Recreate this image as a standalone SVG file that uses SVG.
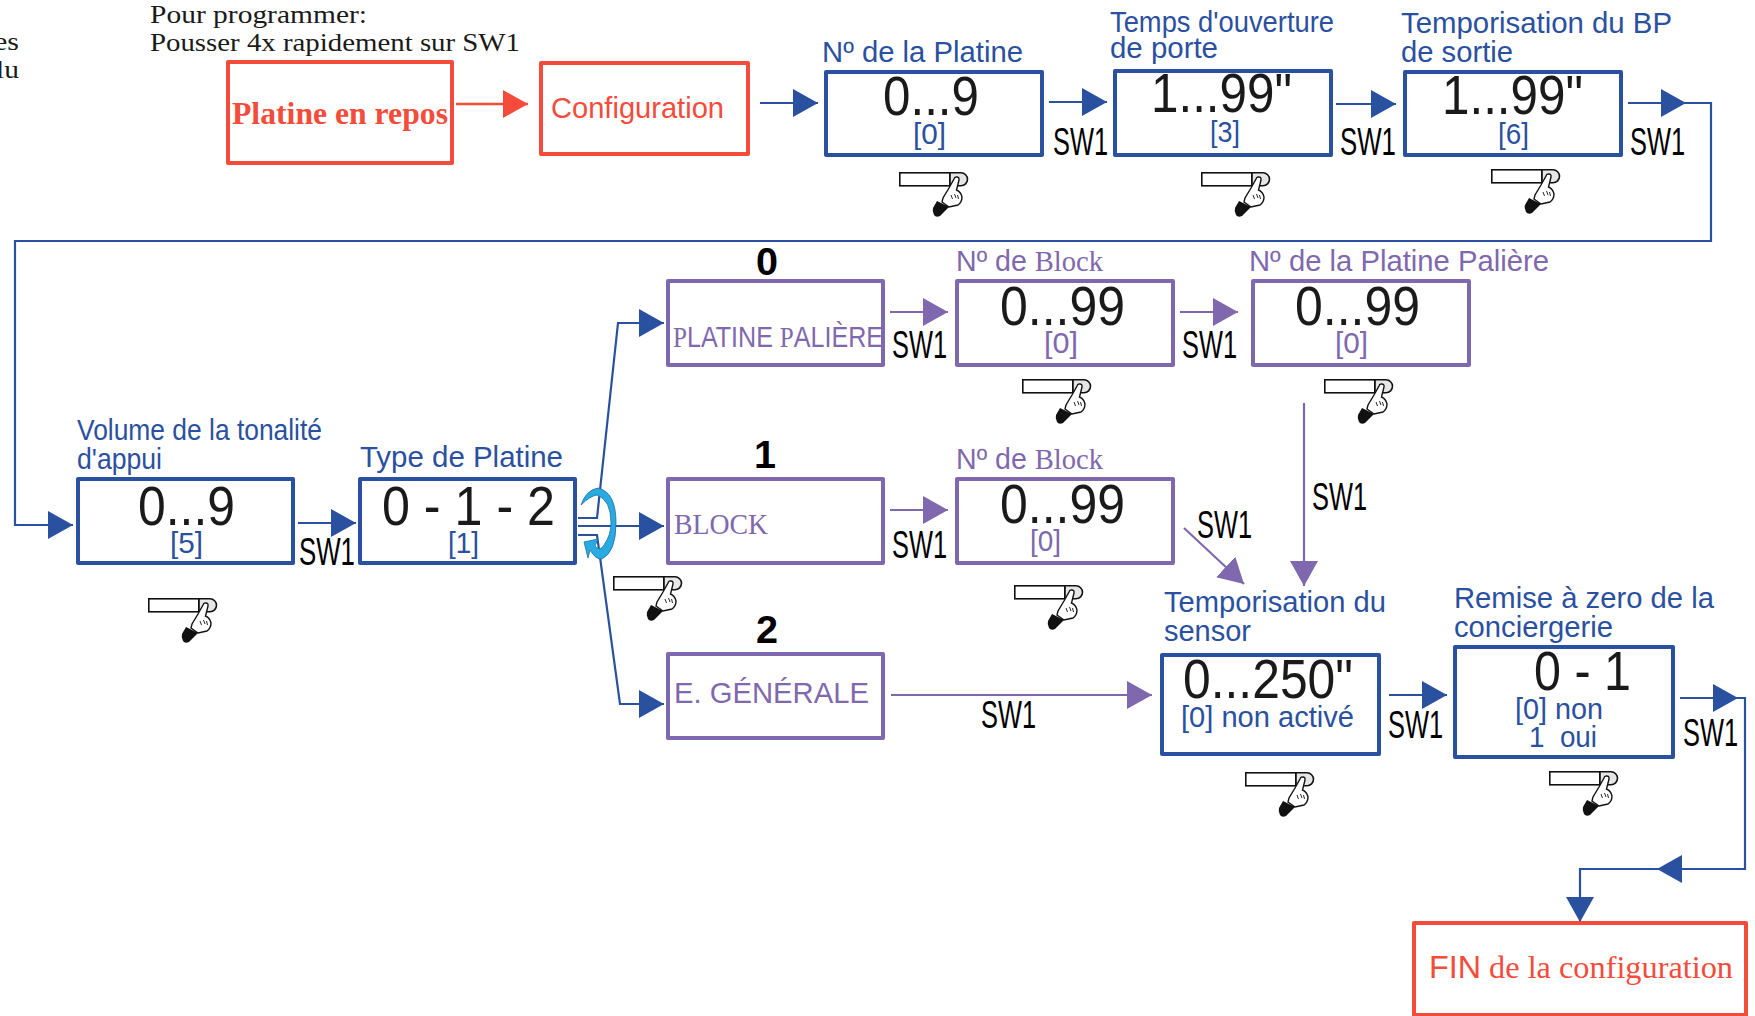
<svg xmlns="http://www.w3.org/2000/svg" width="1755" height="1016" viewBox="0 0 1755 1016">
<style>
text{font-family:"Liberation Sans",Arial,sans-serif}
.sf{font-family:"Liberation Serif","Times New Roman",serif}
.box{fill:#fff;stroke-width:4;stroke-linejoin:round}
.r{stroke:#f44b3a}.b{stroke:#2a50a0}.p{stroke:#7f68ae}
.tr{fill:#f44b3a}.tb{fill:#2a50a0}.tp{fill:#7f68ae}.tk{fill:#1a1a1a}
.lab{font-size:29px}.big{font-size:55px;fill:#1a1a1a}.def{font-size:30px;fill:#2a50a0}.dp{fill:#7f68ae}
.sw{font-size:38px;fill:#000}.num{font-size:38px;font-weight:bold;fill:#000}
.cb{fill:none;stroke:#2a50a0;stroke-width:2.2}
.cp{fill:none;stroke:#7f68ae;stroke-width:2.2}
.cr{fill:none;stroke:#f44b3a;stroke-width:2.4}
</style>
<defs>
<marker id="ab" markerUnits="userSpaceOnUse" markerWidth="26" markerHeight="30" refX="25" refY="14" orient="auto"><path d="M0 0L25 14L0 28Z" fill="#2a50a0"/></marker>
<marker id="ap" markerUnits="userSpaceOnUse" markerWidth="26" markerHeight="30" refX="25" refY="14" orient="auto"><path d="M0 0L25 14L0 28Z" fill="#7f68ae"/></marker>
<marker id="ar" markerUnits="userSpaceOnUse" markerWidth="26" markerHeight="30" refX="25" refY="14" orient="auto"><path d="M0 0L25 14L0 28Z" fill="#f44b3a"/></marker>
<symbol id="hand" overflow="visible">
<rect x="0.8" y="0.8" width="50" height="13" fill="#fff" stroke="#111" stroke-width="1.6"/>
<path d="M51 0.8H62A6.500 6.500 0 0 1 62 13.800H51Z" fill="#e6e6e6" stroke="#111" stroke-width="1.600"/>
<path d="M57 5Q60.500 4.500 60 8L57.500 18Q62 20 63 25Q63 30 59 33L50 35L43 30L44 26L50 16L55 7Q55.500 5 57 5Z" fill="#fff" stroke="#111" stroke-width="1.400"/>
<path d="M38 29L50 35L41 44Q37 46 35 43Q33 39 34 36Z" fill="#111"/>
<path d="M52 23L53.500 27M55.500 22L57 26M58.500 23L59.500 27" fill="none" stroke="#111" stroke-width="0.900"/>
</symbol>
</defs>

<g id="intro">
<text class="sf tk" x="-6" y="50" font-size="26" textLength="25" lengthAdjust="spacingAndGlyphs">es</text>
<text class="sf tk" x="-4" y="78" font-size="26" textLength="23" lengthAdjust="spacingAndGlyphs">lu</text>
<text class="sf tk" x="150" y="23" font-size="26" textLength="217" lengthAdjust="spacingAndGlyphs">Pour programmer:</text>
<text class="sf tk" x="150" y="51" font-size="26" textLength="370" lengthAdjust="spacingAndGlyphs">Pousser 4x rapidement sur SW1</text>
</g>

<g id="connectors">
<path class="cr" marker-end="url(#ar)" d="M456 104H528"/>
<path class="cb" marker-end="url(#ab)" d="M760 103H818"/>
<path class="cb" marker-end="url(#ab)" d="M1049 102H1107"/>
<path class="cb" marker-end="url(#ab)" d="M1336 104H1396"/>
<path class="cb" marker-end="url(#ab)" d="M1628 103H1686"/>
<path class="cb" marker-end="url(#ab)" d="M1686 103H1711V241H15V525H73"/>
<path class="cb" marker-end="url(#ab)" d="M298 523H356"/>
<path class="cb" marker-end="url(#ab)" d="M578 526H664"/>
<path class="cb" marker-end="url(#ab)" d="M578 518H597L618 323H664"/>
<path class="cb" marker-end="url(#ab)" d="M578 535H597L620 704H664"/>
<path class="cp" marker-end="url(#ap)" d="M890 312H948"/>
<path class="cp" marker-end="url(#ap)" d="M1180 312H1238"/>
<path class="cp" marker-end="url(#ap)" d="M890 510H948"/>
<path class="cp" marker-end="url(#ap)" d="M1184 528L1244 584"/>
<path class="cp" marker-end="url(#ap)" d="M1304 403V586"/>
<path class="cp" marker-end="url(#ap)" d="M891 695H1152"/>
<path class="cb" marker-end="url(#ab)" d="M1389 695H1447"/>
<path class="cb" marker-end="url(#ab)" d="M1680 698H1738"/>
<path class="cb" marker-end="url(#ab)" d="M1738 698H1745V869H1657"/>
<path class="cb" marker-end="url(#ab)" d="M1657 869H1580V922"/>
<path id="rotation" d="M581 505Q586 490 598 488Q616 492 616 523Q616 552 602 559Q596 560 590 550L588 558L584 542L598 539L595 546Q600 552 604 545Q611 535 611 523Q611 500 597 495Q590 496 581 505Z" fill="#29abe2" stroke="#1c6ea0" stroke-width="0.8"/>
</g>

<g id="platine-repos"><rect class="box r" x="228" y="62" width="224" height="101"/>
<text class="sf tr" x="232" y="124" font-size="31" font-weight="bold" textLength="216" lengthAdjust="spacingAndGlyphs">Platine en repos</text></g>
<g id="configuration"><rect class="box r" x="541" y="63" width="207" height="91"/>
<text class="tr" x="551" y="118" font-size="30" textLength="173" lengthAdjust="spacingAndGlyphs">Configuration</text></g>

<g id="no-platine"><rect class="box b" x="826" y="72" width="216" height="83"/>
<text class="lab tb" x="822" y="62" textLength="201" lengthAdjust="spacingAndGlyphs">Nº de la Platine</text>
<text class="big" x="883" y="115" textLength="96" lengthAdjust="spacingAndGlyphs">0...9</text>
<text class="def" x="913" y="144" textLength="33" lengthAdjust="spacingAndGlyphs">[0]</text>
<text class="sw" x="1053" y="155" textLength="55" lengthAdjust="spacingAndGlyphs">SW1</text>
<use href="#hand" x="899" y="172"/></g>

<g id="temps-ouverture"><rect class="box b" x="1115" y="71" width="216" height="84"/>
<text class="lab tb" x="1110" y="32" textLength="224" lengthAdjust="spacingAndGlyphs">Temps d'ouverture</text>
<text class="lab tb" x="1110" y="58" textLength="108" lengthAdjust="spacingAndGlyphs">de porte</text>
<text class="big" x="1151" y="112" textLength="141" lengthAdjust="spacingAndGlyphs">1...99"</text>
<text class="def" x="1210" y="142" textLength="30" lengthAdjust="spacingAndGlyphs">[3]</text>
<text class="sw" x="1340" y="155" textLength="56" lengthAdjust="spacingAndGlyphs">SW1</text>
<use href="#hand" x="1201" y="172"/></g>

<g id="tempo-bp"><rect class="box b" x="1405" y="72" width="216" height="83"/>
<text class="lab tb" x="1401" y="33" textLength="271" lengthAdjust="spacingAndGlyphs">Temporisation du BP</text>
<text class="lab tb" x="1401" y="62" textLength="112" lengthAdjust="spacingAndGlyphs">de sortie</text>
<text class="big" x="1442" y="114" textLength="141" lengthAdjust="spacingAndGlyphs">1...99"</text>
<text class="def" x="1498" y="144" textLength="31" lengthAdjust="spacingAndGlyphs">[6]</text>
<text class="sw" x="1630" y="155" textLength="55" lengthAdjust="spacingAndGlyphs">SW1</text>
<use href="#hand" x="1491" y="169"/></g>

<g id="volume"><rect class="box b" x="78" y="479" width="215" height="84"/>
<text class="lab tb" x="77" y="440" textLength="245" lengthAdjust="spacingAndGlyphs">Volume de la tonalité</text>
<text class="lab tb" x="77" y="469" textLength="85" lengthAdjust="spacingAndGlyphs">d'appui</text>
<text class="big" x="138" y="525" textLength="97" lengthAdjust="spacingAndGlyphs">0...9</text>
<text class="def" x="170" y="553" textLength="33" lengthAdjust="spacingAndGlyphs">[5]</text>
<text class="sw" x="299" y="565" textLength="56" lengthAdjust="spacingAndGlyphs">SW1</text>
<use href="#hand" x="148" y="598"/></g>

<g id="type-platine"><rect class="box b" x="360" y="479" width="215" height="84"/>
<text class="lab tb" x="360" y="467" textLength="203" lengthAdjust="spacingAndGlyphs">Type de Platine</text>
<text class="big" x="382" y="525" textLength="173" lengthAdjust="spacingAndGlyphs">0 - 1 - 2</text>
<text class="def" x="448" y="553" textLength="31" lengthAdjust="spacingAndGlyphs">[1]</text>
<use href="#hand" x="613" y="576"/></g>

<g id="platine-paliere"><rect class="box p" x="668" y="281" width="215" height="84"/>
<text class="num" x="756" y="275" textLength="22" lengthAdjust="spacingAndGlyphs">0</text>
<text class="tp" x="673" y="347" font-size="30" textLength="210" lengthAdjust="spacingAndGlyphs"><tspan class="sf">P</tspan>LATINE <tspan class="sf">P</tspan>ALIÈRE</text>
<text class="sw" x="892" y="358" textLength="55" lengthAdjust="spacingAndGlyphs">SW1</text></g>

<g id="no-block-a"><rect class="box p" x="957" y="281" width="216" height="84"/>
<text class="lab tp" x="956" y="271" textLength="147" lengthAdjust="spacingAndGlyphs">Nº de <tspan class="sf">Block</tspan></text>
<text class="big" x="1000" y="325" textLength="125" lengthAdjust="spacingAndGlyphs">0...99</text>
<text class="def dp" x="1044" y="353" textLength="34" lengthAdjust="spacingAndGlyphs">[0]</text>
<text class="sw" x="1182" y="358" textLength="55" lengthAdjust="spacingAndGlyphs">SW1</text>
<use href="#hand" x="1022" y="379"/></g>

<g id="no-platine-paliere"><rect class="box p" x="1253" y="281" width="216" height="84"/>
<text class="lab tp" x="1249" y="271" textLength="300" lengthAdjust="spacingAndGlyphs">Nº de la Platine Palière</text>
<text class="big" x="1295" y="325" textLength="125" lengthAdjust="spacingAndGlyphs">0...99</text>
<text class="def dp" x="1335" y="353" textLength="33" lengthAdjust="spacingAndGlyphs">[0]</text>
<text class="sw" x="1312" y="510" textLength="55" lengthAdjust="spacingAndGlyphs">SW1</text>
<use href="#hand" x="1324" y="379"/></g>

<g id="block"><rect class="box p" x="668" y="479" width="215" height="84"/>
<text class="num" x="754" y="468" textLength="22" lengthAdjust="spacingAndGlyphs">1</text>
<text class="sf tp" x="674" y="534" font-size="30" textLength="94" lengthAdjust="spacingAndGlyphs">BLOCK</text>
<text class="sw" x="892" y="558" textLength="55" lengthAdjust="spacingAndGlyphs">SW1</text></g>

<g id="no-block-b"><rect class="box p" x="957" y="479" width="216" height="84"/>
<text class="lab tp" x="956" y="469" textLength="147" lengthAdjust="spacingAndGlyphs">Nº de <tspan class="sf">Block</tspan></text>
<text class="big" x="1000" y="523" textLength="125" lengthAdjust="spacingAndGlyphs">0...99</text>
<text class="def dp" x="1030" y="551" textLength="31" lengthAdjust="spacingAndGlyphs">[0]</text>
<text class="sw" x="1197" y="538" textLength="55" lengthAdjust="spacingAndGlyphs">SW1</text>
<use href="#hand" x="1014" y="585"/></g>

<g id="e-generale"><rect class="box p" x="668" y="654" width="215" height="84"/>
<text class="num" x="756" y="643" textLength="22" lengthAdjust="spacingAndGlyphs">2</text>
<text class="tp" x="674" y="703" font-size="30" textLength="195" lengthAdjust="spacingAndGlyphs">E. GÉNÉRALE</text>
<text class="sw" x="981" y="728" textLength="55" lengthAdjust="spacingAndGlyphs">SW1</text></g>

<g id="tempo-sensor"><rect class="box b" x="1162" y="655" width="217" height="99"/>
<text class="lab tb" x="1164" y="612" textLength="222" lengthAdjust="spacingAndGlyphs">Temporisation du</text>
<text class="lab tb" x="1164" y="641" textLength="87" lengthAdjust="spacingAndGlyphs">sensor</text>
<text class="big" x="1183" y="698" textLength="170" lengthAdjust="spacingAndGlyphs">0...250"</text>
<text class="def" x="1181" y="727" textLength="173" lengthAdjust="spacingAndGlyphs">[0] non activé</text>
<text class="sw" x="1388" y="738" textLength="55" lengthAdjust="spacingAndGlyphs">SW1</text>
<use href="#hand" x="1245" y="772"/></g>

<g id="remise-zero"><rect class="box b" x="1455" y="647" width="218" height="110"/>
<text class="lab tb" x="1454" y="608" textLength="260" lengthAdjust="spacingAndGlyphs">Remise à zero de la</text>
<text class="lab tb" x="1454" y="637" textLength="159" lengthAdjust="spacingAndGlyphs">conciergerie</text>
<text class="big" x="1534" y="690" textLength="97" lengthAdjust="spacingAndGlyphs">0 - 1</text>
<text class="def" x="1515" y="719" textLength="88" lengthAdjust="spacingAndGlyphs">[0] non</text>
<text class="def" x="1529" y="747" textLength="68" lengthAdjust="spacingAndGlyphs" xml:space="preserve">1  oui</text>
<text class="sw" x="1683" y="746" textLength="55" lengthAdjust="spacingAndGlyphs">SW1</text>
<use href="#hand" x="1549" y="771"/></g>

<g id="fin"><rect class="box r" x="1414" y="923" width="332" height="92"/>
<text class="sf tr" x="1429" y="978" font-size="31" textLength="304" lengthAdjust="spacingAndGlyphs"><tspan style="font-family:'Liberation Sans'">FIN</tspan> de la configuration</text></g>
</svg>
